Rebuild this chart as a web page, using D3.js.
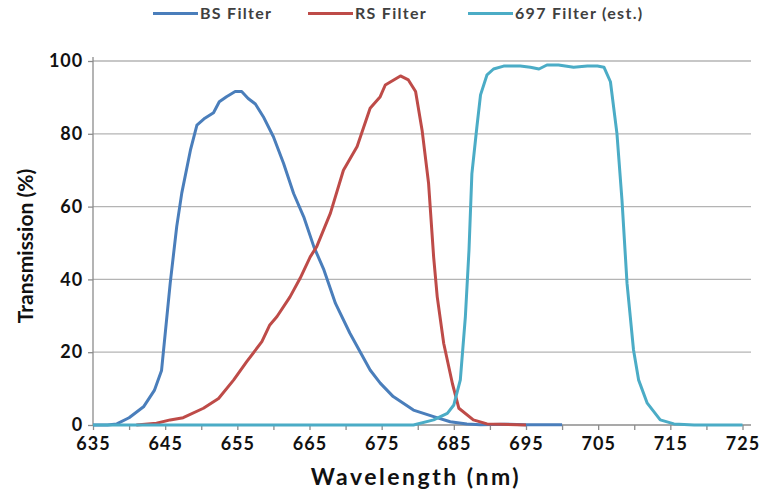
<!DOCTYPE html>
<html>
<head>
<meta charset="utf-8">
<script src="https://cdn.jsdelivr.net/npm/d3@7"></script>
<style>
  body { margin: 0; background: #fff; }
  text { font-family: Lato, "Open Sans", sans-serif; font-weight: bold; }
</style>
</head>
<body>
<div id="chart"></div>
<script>
// wavelength (nm) / transmission (%)
const bsWl = [635, 637, 638.3, 640, 642, 643.5, 644.5, 645.7, 646.6, 647.3, 648.5, 649.4, 650.5, 651.7, 652.5, 653.5, 654.7, 655.6, 656.5, 657.5, 658.6, 660, 661.4, 662.8, 664.2, 665.6, 667, 668.6, 670.6, 673.4, 674.8, 676.6, 679.4, 682.2, 684.5, 686.8, 688.7, 692, 695, 700];
const bsT  = [0, 0, 0.3, 2, 5, 9.5, 15, 39, 54.5, 63.7, 75.5, 82.4, 84.3, 85.8, 88.8, 90.2, 91.6, 91.6, 89.7, 88.2, 84.7, 79.2, 71.9, 63.6, 57.2, 49, 42.6, 33.4, 25.2, 15.1, 11.5, 7.8, 4.1, 2.3, 0.9, 0.3, 0.1, 0.2, 0.1, 0.1];

const rsWl = [641, 643.8, 645.7, 647.5, 650.3, 652.4, 654.5, 656.3, 658.4, 659.5, 660.5, 662.3, 663.7, 665.1, 666, 667.9, 669.7, 671.6, 673.4, 674.8, 675.5, 677.6, 678.7, 679.7, 680.6, 681.5, 682.2, 682.7, 683.6, 684.8, 685.7, 687.7, 689.6, 691.4, 695];
const rsT  = [0, 0.5, 1.4, 2, 4.6, 7.3, 12.4, 17.4, 22.9, 27.5, 29.8, 35.2, 40.3, 46.2, 49, 58.2, 70, 76.5, 87, 90.2, 93.4, 95.9, 94.8, 91.6, 81, 66.4, 46.2, 35.2, 22.4, 11.4, 4.6, 1.4, 0.3, 0.2, 0];

const f697Wl = [635, 679.4, 682.2, 684.1, 685, 685.9, 686.6, 687.1, 687.5, 688.2, 688.7, 689.6, 690.5, 691.9, 694.2, 695.6, 696.8, 697.9, 699.5, 701.6, 703.5, 704.9, 705.8, 706.7, 707.6, 708.3, 709, 709.9, 710.6, 711.8, 713.6, 715.5, 718.3, 725];
const f697T  = [0, 0, 1.4, 3.2, 5.5, 12.4, 29.8, 48, 69, 82, 90.7, 96.2, 97.8, 98.6, 98.6, 98.3, 97.8, 98.9, 98.9, 98.3, 98.6, 98.6, 98.3, 94.3, 80.1, 61.8, 38.9, 20.6, 12.4, 6, 1.4, 0.3, 0, 0];

const seriesNames = ["BS Filter", "RS Filter", "697 Filter (est.)"];
const xTicks = [635, 640, 645, 650, 655, 660, 665, 670, 675, 680, 685, 690, 695, 700, 705, 710, 715, 720, 725];
const yTicks = [0, 20, 40, 60, 80, 100];

const W = 762, H = 495;
const colors = ["#4a7ebb", "#be4b48", "#4bacc6"];

const svg = d3.select("#chart").append("svg")
  .attr("width", W).attr("height", H);

svg.append("rect").attr("width", W).attr("height", H).attr("fill", "#fff");

const x = d3.scaleLinear().domain([635, 725]).range([93, 742.5]);
const y = d3.scaleLinear().domain([0, 100]).range([425, 61]);
const plotRight = 751;

// gridlines
svg.append("g")
  .selectAll("line")
  .data(yTicks.filter(d => d > 0))
  .enter().append("line")
  .attr("x1", x(635)).attr("x2", plotRight)
  .attr("y1", d => y(d)).attr("y2", d => y(d))
  .attr("stroke", "#b4b4b4").attr("stroke-width", 1.3);

// axes
const xAxis = svg.append("g")
  .attr("transform", `translate(0,${y(0)})`)
  .call(d3.axisBottom(x).tickValues(xTicks).tickSize(5).tickSizeOuter(0)
    .tickFormat(d => (d - 635) % 10 === 0 ? d : ""));
xAxis.select(".domain").attr("d", `M${x(635)},0H${plotRight}`);

const yAxis = svg.append("g")
  .attr("transform", `translate(${x(635)},0)`)
  .call(d3.axisLeft(y).tickValues(yTicks).tickSize(5).tickSizeOuter(0));
yAxis.select(".domain").attr("d", `M0,${y(0)}V57`);

svg.selectAll(".domain, .tick line").attr("stroke", "#8c8c8c").attr("stroke-width", 1.3);
svg.selectAll(".tick text")
  .attr("font-family", null)
  .attr("font-size", 18)
  .attr("letter-spacing", "1px")
  .attr("fill", "#111");
xAxis.selectAll(".tick text").attr("dy", "0.95em");
yAxis.selectAll(".tick text").attr("dx", "-0.1em");

// curves
const line = d3.line().x(d => x(d[0])).y(d => y(d[1]));
const series = [
  d3.zip(bsWl, bsT),
  d3.zip(rsWl, rsT),
  d3.zip(f697Wl, f697T)
];
svg.append("g")
  .selectAll("path")
  .data(series)
  .enter().append("path")
  .attr("d", line)
  .attr("fill", "none")
  .attr("stroke", (d, i) => colors[i])
  .attr("stroke-width", 3)
  .attr("stroke-linejoin", "round");

// axis titles
svg.append("text")
  .attr("x", 416).attr("y", 485)
  .attr("text-anchor", "middle")
  .attr("font-size", 23)
  .attr("letter-spacing", "2.5px")
  .attr("fill", "#111")
  .text("Wavelength (nm)");

svg.append("text")
  .attr("transform", "translate(33,246) rotate(-90)")
  .attr("text-anchor", "middle")
  .attr("font-size", 21)
  .attr("fill", "#111")
  .text("Transmission (%)");

// legend
const legendX = [153, 308, 468];
const legend = svg.append("g")
  .selectAll("g")
  .data(seriesNames)
  .enter().append("g")
  .attr("transform", (d, i) => `translate(${legendX[i]},13.5)`);
legend.append("line")
  .attr("x1", 0).attr("x2", 45)
  .attr("stroke", (d, i) => colors[i])
  .attr("stroke-width", 3);
legend.append("text")
  .attr("x", 47).attr("dy", "0.36em")
  .attr("font-size", 16)
  .attr("letter-spacing", "1.3px")
  .attr("fill", "#404040")
  .text(d => d);
</script>
</body>
</html>
